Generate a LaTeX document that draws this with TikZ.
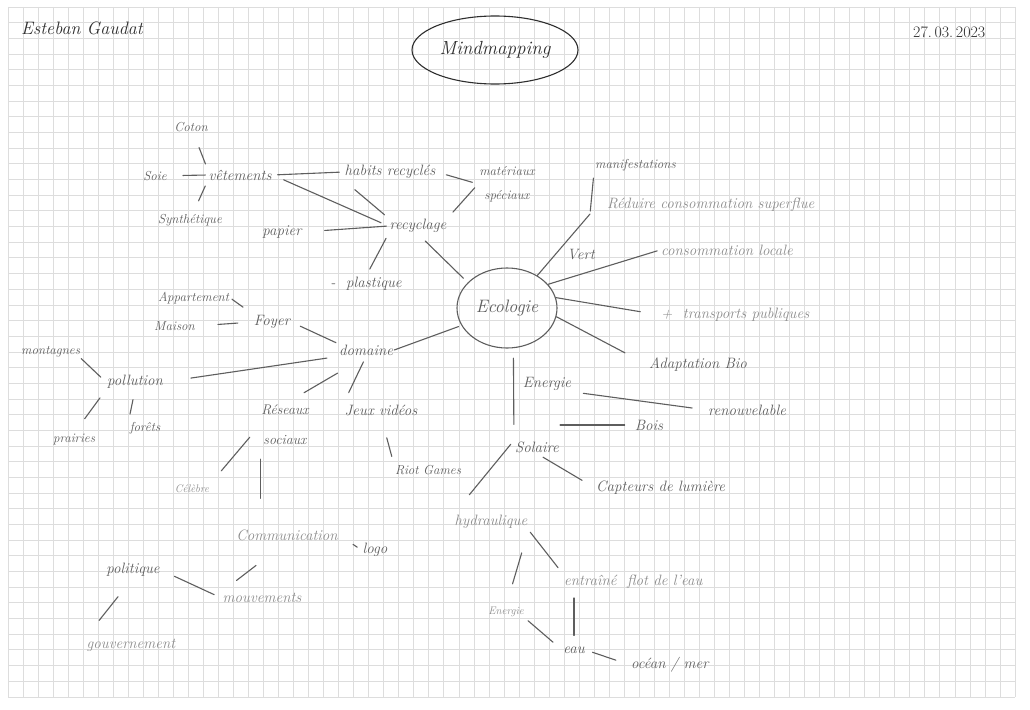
\documentclass[tikz,border=0pt]{standalone}
\usepackage{tikz}
\usetikzlibrary{shapes.geometric, arrows, positioning}

\definecolor{pencil}{HTML}{5E5E5E}
\definecolor{faint}{HTML}{8C8C8C}
\definecolor{ink}{HTML}{2E2E2E}
\definecolor{gridline}{HTML}{DDDDDD}

\tikzset{
	word/.style={text=pencil, font=\fontsize{15}{17}\selectfont\itshape, inner sep=1pt},
	smallword/.style={word, font=\fontsize{13}{15}\selectfont\itshape},
	tinyword/.style={word, font=\fontsize{11}{12}\selectfont\itshape},
	bigword/.style={word, font=\fontsize{18}{20}\selectfont\itshape},
	link/.style={draw=pencil, line width=1.1pt, line cap=round},
}

\begin{document}
\begin{tikzpicture}[x=1pt, y=-1pt]
	\fill[white] (0,0) rectangle (1030,709);
	\useasboundingbox (0,0) rectangle (1030,709);
	\foreach \i in {0,...,67} \draw[gridline, line width=0.8pt] (8+15.03*\i,7) -- (8+15.03*\i,697);
	\foreach \j in {0,...,44} \draw[gridline, line width=0.8pt] (8,7+15.68*\j) -- (1015,7+15.68*\j);

	\node[bigword, text=ink, anchor=west] (author) at (20,28) {Esteban Gaudat};
	\node[word, text=ink, font=\fontsize{16}{18}\selectfont, anchor=west] (date) at (912,32) {27.\,03.\,2023};
	\node[ellipse, draw=ink, line width=1.1pt, minimum width=122pt, minimum height=68pt, text=ink, font=\fontsize{19}{21}\selectfont\itshape] (title) at (495,50) {Mindmapping};

	\node[ellipse, draw=pencil, line width=1.1pt, minimum width=100pt, minimum height=80pt, bigword] (ecologie) at (507,308) {Ecologie};

	\node[smallword] (coton) at (191,127) {Coton};
	\node[smallword] (soie) at (155,176) {Soie};
	\node[smallword] (synthetique) at (190,220) {Synthétique};
	\node[word] (vetements) at (240,175) {vêtements};
	\node[word] (habits) at (390,172) {habits recyclés};
	\node[smallword, align=center, font=\fontsize{13}{24}\selectfont\itshape] (materiaux) at (507,184) {matériaux\\spéciaux};
	\node[word] (papier) at (282,232) {papier};
	\node[word] (recyclage) at (418,226) {recyclage};
	\node[word] (plastique) at (366,284) {-\ \ plastique};

	\node[smallword, anchor=west] (manifestations) at (594,165) {manifestations};
	\node[word] (vert) at (581,255) {Vert};
	\node[word, text=faint, anchor=west] (reduire) at (606,205) {Réduire consommation superflue};
	\node[word, text=faint, anchor=west] (locale) at (660,250) {consommation locale};
	\node[word, text=faint, anchor=west] (transports) at (660,315) {+ \ transports publiques};
	\node[word, anchor=west] (adaptation) at (648,365) {Adaptation Bio};

	\node[smallword, anchor=west] (appartement) at (157,298) {Appartement};
	\node[smallword, anchor=west] (maison) at (153,326) {Maison};
	\node[word] (foyer) at (272,322) {Foyer};
	\node[word] (domaine) at (366,350) {domaine};
	\node[smallword, anchor=west] (montagnes) at (20,352) {montagnes};
	\node[word] (pollution) at (135,382) {pollution};
	\node[smallword] (prairies) at (74,440) {prairies};
	\node[smallword] (forets) at (145,428) {forêts};
	\node[word, align=center, font=\fontsize{14}{30}\selectfont\itshape] (reseaux) at (285,425) {Réseaux\\sociaux};
	\node[word] (jeux) at (381,410) {Jeux vidéos};
	\node[smallword] (riot) at (428,470) {Riot Games};
	\node[tinyword, text=faint] (celebre) at (192,489) {Célèbre};
	\node[word, text=faint] (communication) at (287,535) {Communication};
	\node[word] (logo) at (375,550) {logo};
	\node[word] (politique) at (133,570) {politique};
	\node[word, text=faint] (mouvements) at (262,598) {mouvements};
	\node[word, text=faint] (gouvernement) at (131,645) {gouvernement};

	\node[word] (energieOne) at (547,384) {Energie};
	\node[word, anchor=west] (renouvelable) at (707,410) {renouvelable};
	\node[word] (bois) at (649,425) {Bois};
	\node[word] (solaire) at (537,447) {Solaire};
	\node[word, anchor=west] (capteurs) at (595,488) {Capteurs de lumière};
	\node[word, text=faint] (hydraulique) at (491,522) {hydraulique};
	\node[tinyword, text=faint] (energieTwo) at (506,612) {Energie};
	\node[word, text=faint, anchor=west] (entraine) at (563,582) {entraîné \ flot de l'eau};
	\node[word] (eau) at (574,650) {eau};
	\node[word, anchor=west] (ocean) at (630,665) {océan / mer};

	\coordinate (vertEnd) at (590,214);

	\draw[link, shorten <=22pt, shorten >=5pt] (coton.center) to (vetements.north west);
	\draw[link, shorten <=28pt, shorten >=2pt] (soie.center) to (vetements.west);
	\draw[link, shorten <=21pt, shorten >=5pt] (synthetique.center) to (vetements.south west);
	\draw[link, shorten <=5pt, shorten >=4pt] (vetements.east) to (habits.west);
	\draw[link, shorten <=12pt, shorten >=8pt] (vetements.east) to (recyclage.west);
	\draw[link, shorten <=15pt, shorten >=5pt] (habits.south west) to (recyclage.north west);
	\draw[link, shorten <=10pt, shorten >=6pt] (habits.east) to (materiaux.west);
	\draw[link, shorten <=5pt, shorten >=8pt] (materiaux.west) to (recyclage.north east);
	\draw[link, shorten <=22pt, shorten >=2pt] (papier.east) to (recyclage.west);
	\draw[link, shorten <=5pt, shorten >=8pt] (recyclage.south west) to (plastique.north);
	\draw[link, shorten <=10pt, shorten >=6pt] (recyclage.south) to (ecologie.147);

	\draw[link] (ecologie.47) to (vertEnd);
	\draw[link, shorten <=3pt, shorten >=6pt] (vertEnd) to (manifestations.south west);
	\draw[link, shorten >=3pt] (ecologie.30) to (locale.west);
	\draw[link, shorten >=20pt] (ecologie.12) to (transports.west);
	\draw[link, shorten >=26pt] (ecologie.-10) to (adaptation.west);

	\draw[link, shorten <=3pt] (ecologie.201) to (domaine.east);
	\draw[link, shorten <=10pt, shorten >=2pt] (foyer.east) to (domaine.north west);
	\draw[link, shorten <=2pt, shorten >=12pt] (appartement.east) to (foyer.north west);
	\draw[link, shorten <=22pt, shorten >=15pt] (maison.east) to (foyer.west);
	\draw[link, shorten <=27pt, shorten >=11pt] (pollution.east) to (domaine.south west);
	\draw[link, shorten >=7pt] (montagnes.south east) to (pollution.west);
	\draw[link, shorten <=18pt, shorten >=10pt] (prairies.north) to (pollution.south west);
	\draw[link, shorten <=7pt, shorten >=10pt] (forets.north west) to (pollution.south);
	\draw[link, shorten <=22pt, shorten >=33pt] (reseaux.north) to (domaine.south);
	\draw[link, shorten <=12pt, shorten >=6pt] (jeux.north west) to (domaine.south);
	\draw[link, shorten <=22pt, shorten >=8pt] (jeux.south) to (riot.north west);
	\draw[link, shorten <=16pt, shorten >=17pt] (reseaux.west) to (celebre.north east);
	\draw[link, shorten <=13pt, shorten >=30pt] (reseaux.south west) to (reseaux.south west |- communication.north);
	\draw[link, shorten <=17pt, shorten >=5pt] (communication.east) to (logo.west);
	\draw[link, shorten <=39pt, shorten >=19pt] (communication.south) to (mouvements.north west);
	\draw[link, shorten <=15pt, shorten >=8pt] (politique.east) to (mouvements.west);
	\draw[link, shorten <=24pt, shorten >=22pt] (politique.south) to (gouvernement.north west);

	\draw[link, shorten <=10pt, shorten >=16pt] (ecologie.-81) to (solaire.north west);
	\draw[link, shorten <=11pt, shorten >=15pt] (energieOne.south east) to (renouvelable.west);
	\draw[link, shorten >=9pt] (solaire.north east |- bois.west) to (bois.west);
	\draw[link, shorten <=7pt, shorten >=15pt] (solaire.south) to (capteurs.west);
	\draw[link, shorten <=5pt, shorten >=25pt] (solaire.north west) to (hydraulique.north west);
	\draw[link, shorten <=3pt, shorten >=8pt] (hydraulique.south east) to (entraine.north west);
	\draw[link, shorten <=24pt, shorten >=23pt] (hydraulique.south east) to (energieTwo.north);
	\draw[link, shorten <=8pt, shorten >=10pt] (eau.north |- entraine.south) to (eau.north);
	\draw[link, shorten <=4pt, shorten >=12pt] (energieTwo.south east) to (eau.west);
	\draw[link, shorten <=7pt, shorten >=15pt] (eau.east) to (ocean.west);
\end{tikzpicture}
\end{document}
